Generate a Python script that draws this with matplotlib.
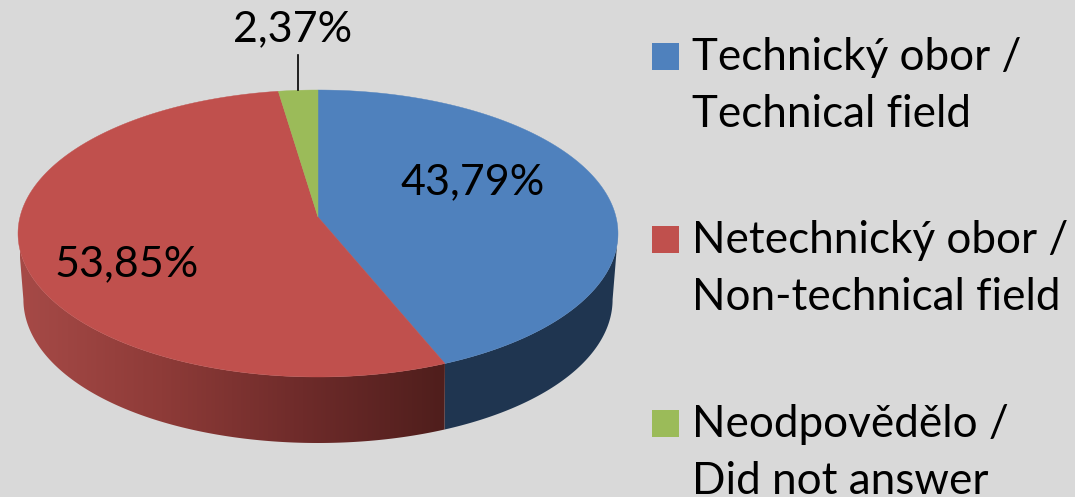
#!/usr/bin/env python3
"""3D looking pie chart, drawn by hand since matplotlib has no perspective pie."""
import numpy as np
import matplotlib
matplotlib.use("Agg")
import matplotlib.pyplot as plt
from matplotlib.colors import LinearSegmentedColormap

values = [43.79, 53.85, 2.37]
labels = ["Technický obor /\nTechnical field",
          "Netechnický obor /\nNon-technical field",
          "Neodpovědělo /\nDid not answer"]
colors = ["#4F81BD", "#C0504D", "#9BBB59"]

BG = "#D9D9D9"
CX, CY = 318, 217      # apex of the slices, in pixels
RX, RY, K = 298, 141.6, 0.115   # perspective ellipse
DEPTH = 66
FONT = "Lato"
FS_PCT = 31
FS_LEG = 31.7


def project(deg):
    """Angle clockwise from 12 o'clock -> pixel position on the rim."""
    t = np.radians(deg)
    w = 1 + K * np.cos(t)
    return CX + RX * np.sin(t) / w, CY - RY * np.cos(t) / w


def wall(a, b):
    """Outline of the side wall between two rim angles."""
    xs, ys = project(np.linspace(a, b, 200))
    dx = (xs - CX) / 300
    xb = CX + (xs - CX) * (1 - 0.018 * dx ** 2)
    return np.r_[xs, xb[::-1]], np.r_[ys, ys[::-1] + DEPTH]


fig = plt.figure(figsize=(10.75, 4.97), dpi=100, facecolor=BG)
ax = fig.add_axes([0, 0, 1, 1])
ax.set_xlim(0, 1075); ax.set_ylim(497, 0); ax.axis("off")

total = sum(values)
edges = np.concatenate([[0], np.cumsum(values) / total * 360])

# the rim is widest here, the wall outline has to stop at these angles
side = np.degrees(np.arccos(-K))

# ---- side wall ---------------------------------------------------------- #
ax.fill(*wall(side, edges[1]), color="#1F3550", lw=0, zorder=1)

wx, wy = wall(edges[1], 360 - side)
red_wall = ax.fill(wx, wy, facecolor="none", lw=0, zorder=1)[0]
cmap = LinearSegmentedColormap.from_list("redwall", ["#A64A47", "#8E3B38", "#6E2B2A", "#4F1E1C"])
grad = ax.imshow(np.linspace(0, 1, 256)[None, :], cmap=cmap, aspect="auto",
                 extent=(20, 445, 480, 200), zorder=1)
grad.set_clip_path(red_wall)
ax.set_xlim(0, 1075); ax.set_ylim(497, 0)

# ---- top face ------------------------------------------------------------ #
for a, b, col in zip(edges[:-1], edges[1:], colors):
    xs, ys = project(np.linspace(a, b, 200))
    ax.fill(np.r_[CX, xs], np.r_[CY, ys], color=col, lw=0.3, zorder=2)

# ---- data labels --------------------------------------------------------- #
pct = [f"{v:.2f}".replace(".", ",") + "%" for v in values]
ax.text(473, 182, pct[0], ha="center", va="center", fontsize=FS_PCT, family=FONT, color="black", zorder=3)
ax.text(127, 264, pct[1], ha="center", va="center", fontsize=FS_PCT, family=FONT, color="black", zorder=3)
ax.text(293, 29, pct[2], ha="center", va="center", fontsize=FS_PCT, family=FONT, color="black", zorder=3)

lx, ly = project((edges[2] + edges[3]) / 2)
ax.plot([lx, lx], [55, ly], color="black", lw=1.2, zorder=3)

# ---- legend -------------------------------------------------------------- #
for label, col, top in zip(labels, colors, [43, 226, 410]):
    ax.add_patch(plt.Rectangle((652, top), 27, 27, color=col, lw=0))
    first, second = label.split("\n")
    ax.text(692, top + 27, first, va="baseline", fontsize=FS_LEG, family=FONT, color="black")
    ax.text(692, top + 84, second, va="baseline", fontsize=FS_LEG, family=FONT, color="black")

fig.savefig("out.png", dpi=100, facecolor=BG)
